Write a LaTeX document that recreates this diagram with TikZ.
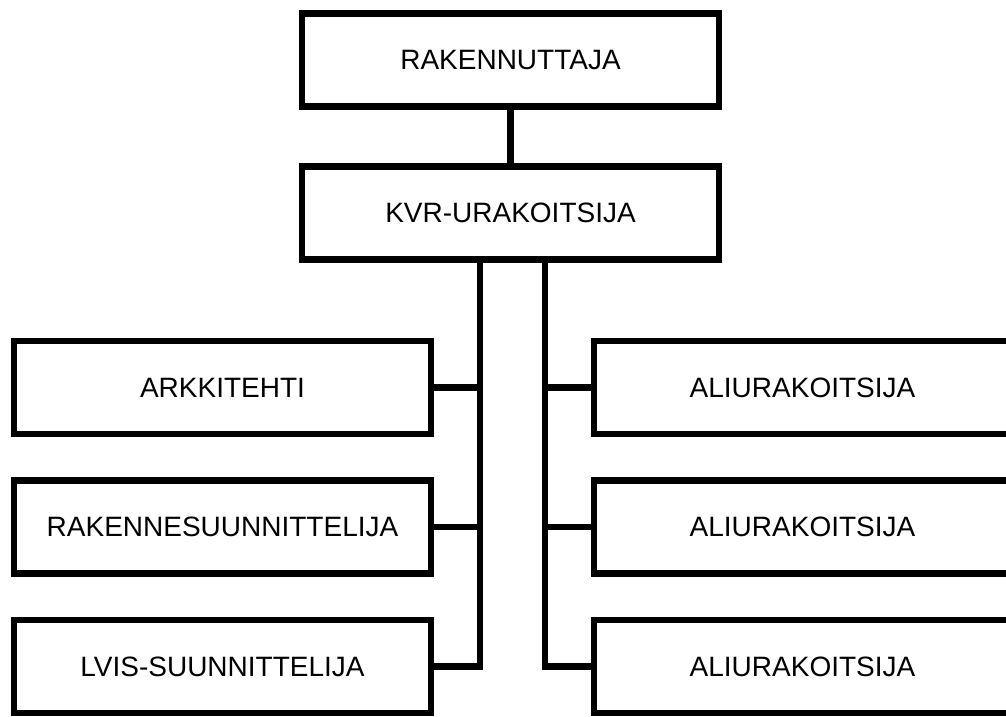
\documentclass[tikz,border=0pt]{standalone}
\usepackage{fontspec}
\setmainfont{Liberation Sans}
\usepackage{tikz}
\usetikzlibrary{positioning}
\tikzset{
    orgbox/.style = {rectangle, minimum width=417pt, minimum height=93pt, inner sep=0pt, text centered, draw=black, line width=6.5pt, font=\fontsize{28}{30}\selectfont},
    link/.style = {draw=black, line width=6.5pt}
}

\begin{document}
\begin{tikzpicture}[x=1pt, y=1pt, node distance=139.5pt]
    \useasboundingbox (0,0) rectangle (1006,716);

    \node [orgbox] (rakennuttaja) at (510.5,656) {RAKENNUTTAJA};
    \node [orgbox, below of=rakennuttaja, node distance=153pt] (kvr) {KVR-URAKOITSIJA};

    % suunnittelijat
    \node [orgbox] (arkkitehti) at (222.5,328.5) {ARKKITEHTI};
    \node [orgbox, below of=arkkitehti] (rakenne) {RAKENNESUUNNITTELIJA};
    \node [orgbox, below of=rakenne] (lvis) {LVIS-SUUNNITTELIJA};

    % aliurakoitsijat
    \node [orgbox] (ali1) at (802.5,328.5) {ALIURAKOITSIJA};
    \node [orgbox, below of=ali1] (ali2) {ALIURAKOITSIJA};
    \node [orgbox, below of=ali2] (ali3) {ALIURAKOITSIJA};

    \coordinate (lbus) at (480,0);
    \coordinate (rbus) at (545,0);

    \draw [link] (rakennuttaja) -- (kvr);
    \draw [link] (kvr.south -| lbus) |- (lvis.east);
    \draw [link] (arkkitehti.east) -- (arkkitehti.east -| lbus);
    \draw [link] (rakenne.east) -- (rakenne.east -| lbus);
    \draw [link] (kvr.south -| rbus) |- (ali3.west);
    \draw [link] (ali1.west) -- (ali1.west -| rbus);
    \draw [link] (ali2.west) -- (ali2.west -| rbus);
\end{tikzpicture}
\end{document}
